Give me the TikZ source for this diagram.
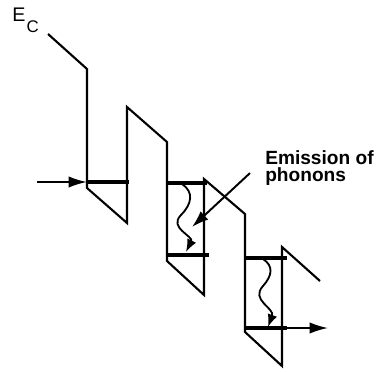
\documentclass[tikz,border=0pt]{standalone}
\usepackage{fontspec}
\newfontfamily\arial{Liberation Sans}
\usetikzlibrary{arrows.meta}
\tikzset{
  band/.style={line width=1.5pt, line join=miter},
  level/.style={line width=2.4pt},
  flow/.style={line width=1.3pt, -{Latex[length=13pt,width=8pt]}},
  relax/.style={line width=1.3pt, -{Latex[length=9pt,width=7pt]}},
  pointer/.style={line width=1.4pt, -{Latex[length=12pt,width=8pt]}}
}
\begin{document}
\begin{tikzpicture}[x=0.25cm,y=-0.25cm]
\useasboundingbox (0,0) rectangle (38,37.2);
% conduction band edge
\draw[band] (4.8,3.4) -- (8.7,6.9) -- (8.7,18.8) -- (12.7,22.3) -- (12.7,10.7)
      -- (16.7,14.2) -- (16.7,26.1) -- (20.4,29.5) -- (20.4,17.9)
      -- (24.5,21.4) -- (24.5,33.2) -- (28.2,36.6) -- (28.2,24.7) -- (32.0,28.1);
\node[font=\arial\fontsize{14}{14}\selectfont, anchor=base west, inner sep=0] (ec) at (1.2,2.2)
     {E\kern0.8pt\raisebox{-7.8pt}{\fontsize{12}{12}\selectfont C}};
% subband levels
\draw[level] (8.7,18.2) -- (12.9,18.2);
\draw[level] (16.7,18.3) -- (20.7,18.3);
\draw[level] (16.7,25.5) -- (20.9,25.5);
\draw[level] (24.5,25.8) -- (28.7,25.8);
\draw[level] (24.5,32.8) -- (28.7,32.8);
% electrons in and out
\coordinate (in) at (3.7,18.2);
\coordinate (out) at (32.8,32.8);
\draw[flow] (in) -- (8.7,18.2);
\draw[flow] (28.5,32.8) -- (out);
% phonon relaxation
\draw[relax] (18.2,18.4) .. controls (19.4,19.2) and (19.2,20.4) .. (18.1,21.5)
             .. controls (16.8,22.8) and (19.4,23.6) .. (18.6,25.2);
\draw[relax] (26.3,25.9) .. controls (27.4,26.6) and (27.2,27.6) .. (26.3,28.6)
             .. controls (25.0,30.0) and (27.5,30.8) .. (26.8,32.7);
\node[font=\arial\bfseries\fontsize{13.6}{12.6}\selectfont, align=left, anchor=north west, inner sep=0]
     (emis) at (26.5,15.0) {Emission of\\phonons};
\coordinate (hit) at (19.2,22.7);
\draw[pointer] (emis.west) ++(-1.5,0.5) -- (hit);
\end{tikzpicture}
\end{document}
